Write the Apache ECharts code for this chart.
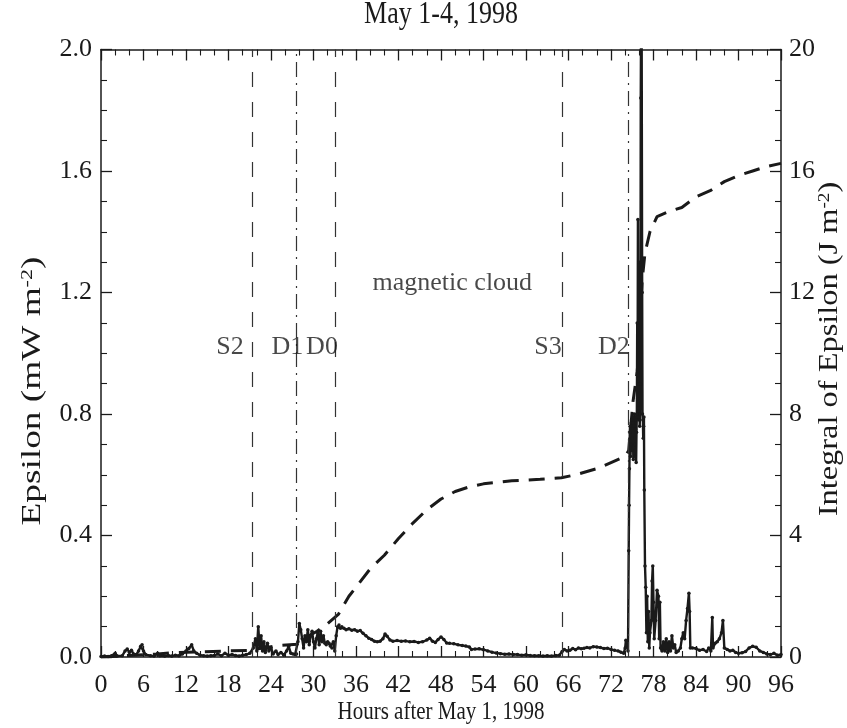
<!DOCTYPE html>
<html>
<head>
<meta charset="utf-8">
<script src="https://cdn.jsdelivr.net/npm/echarts@6/dist/echarts.min.js"></script>
<style>
  html, body { margin: 0; padding: 0; background: #ffffff; }
  #chart { width: 847px; height: 728px; }
</style>
</head>
<body>
<div id="chart"></div>
<script>
// Solar-wind energy input (epsilon), May 1-4, 1998, and its running integral.

// Epsilon samples: hours after May 1, 1998 00 UT, and mW m^-2
const epsilonHours = [
  0, 0.5, 1, 1.5, 2, 2.3, 3, 3.4, 3.7, 4.0, 4.3, 4.6, 5, 5.3, 5.6, 5.8, 6.0, 6.3, 7, 7.5,
  8, 8.3, 9, 9.5, 10, 10.5, 11, 11.5, 12, 12.4, 12.8, 13.1, 13.5, 14, 14.5, 15, 15.5, 16, 16.5, 17,
  17.5, 18, 18.5, 19, 19.5, 20, 20.5, 21, 21.5, 21.8, 22.0, 22.2, 22.4, 22.6, 22.8, 23.0, 23.2, 23.5, 23.7, 24.0,
  24.3, 24.7, 25, 25.4, 25.8, 26.2, 26.5, 26.8, 27.1, 27.4, 27.6, 27.8, 28.0, 28.2, 28.4, 28.6, 28.8, 29.0, 29.2, 29.4,
  29.6, 29.8, 30.0, 30.2, 30.4, 30.6, 30.8, 31.0, 31.2, 31.4, 31.6, 31.8, 32.0, 32.2, 32.4, 32.6, 32.8, 33.0, 33.2, 33.4,
  33.6, 33.8, 34.0, 34.3, 34.6, 35.0, 35.4, 35.8, 36.2, 36.6, 37.0, 37.4, 37.8, 38.2, 38.6, 39.0, 39.4, 39.8, 40.1, 40.4,
  40.8, 41.2, 41.8, 42.4, 43.0, 43.6, 44.2, 44.8, 45.4, 46.0, 46.4, 46.8, 47.2, 47.6, 48.0, 48.4, 48.8, 49.2, 49.8, 50.4,
  51.0, 51.5, 52.0, 52.3, 52.8, 53.4, 54.0, 54.6, 55.2, 55.8, 56.4, 57.0, 57.6, 58.2, 58.8, 59.4, 60.0, 60.6, 61.2, 61.8,
  62.4, 63.0, 63.6, 64.2, 64.7, 65.1, 65.4, 65.8, 66.2, 66.6, 67.0, 67.4, 67.8, 68.2, 68.6, 69.0, 69.5, 70.0, 70.5, 71.0,
  71.5, 72.0, 72.5, 73.0, 73.4, 73.8, 74.0, 74.1, 74.25, 74.4, 74.5, 74.55, 74.6, 74.65, 74.7, 74.75, 74.8, 74.85, 74.9, 74.95,
  75.0, 75.05, 75.1, 75.15, 75.2, 75.25, 75.3, 75.35, 75.4, 75.45, 75.5, 75.55, 75.6, 75.65, 75.7, 75.75, 75.8, 75.85, 75.9, 75.95,
  76.0, 76.05, 76.1, 76.15, 76.2, 76.3, 76.4, 76.45, 76.5, 76.55, 76.6, 76.65, 76.7, 76.8, 76.9, 77.0, 77.1, 77.2, 77.3, 77.4,
  77.5, 77.7, 77.8, 77.9, 78.0, 78.1, 78.3, 78.5, 78.7, 78.8, 78.9, 79.0, 79.2, 79.4, 79.6, 79.8, 80.0, 80.2, 80.4, 80.6,
  80.8, 81.0, 81.2, 81.5, 81.8, 82.0, 82.2, 82.4, 82.6, 82.8, 83.0, 83.1, 83.2, 83.5, 84.0, 84.5, 85.0, 85.5, 85.8, 86.1,
  86.3, 86.4, 86.7, 87.0, 87.3, 87.6, 87.8, 88.0, 88.4, 88.8, 89.2, 89.6, 90.0, 90.5, 91.0, 91.5, 92.0, 92.5, 93.0, 93.5,
  94.0, 94.5, 95.0, 95.5, 96.0
];
const epsilonValues = [
  0.002, 0.003, 0.002, 0.004, 0.012, 0.003, 0.004, 0.02, 0.026, 0.015, 0.022, 0.01, 0.008, 0.02, 0.035, 0.04, 0.02, 0.008, 0.004, 0.003,
  0.012, 0.004, 0.003, 0.005, 0.003, 0.006, 0.004, 0.01, 0.02, 0.028, 0.04, 0.02, 0.012, 0.006, 0.004, 0.003, 0.004, 0.005, 0.01, 0.004,
  0.012, 0.006, 0.008, 0.005, 0.003, 0.006, 0.008, 0.012, 0.03, 0.06, 0.02, 0.1, 0.03, 0.07, 0.02, 0.05, 0.015, 0.045, 0.02, 0.03,
  0.01, 0.02, 0.008, 0.015, 0.006, 0.02, 0.035, 0.012, 0.01, 0.008, 0.01, 0.05, 0.11, 0.09, 0.06, 0.03, 0.07, 0.05, 0.09, 0.04,
  0.07, 0.085, 0.05, 0.03, 0.06, 0.08, 0.04, 0.085, 0.05, 0.07, 0.045, 0.04, 0.05, 0.045, 0.035, 0.03, 0.05, 0.02, 0.07, 0.1,
  0.105, 0.095, 0.1, 0.095, 0.09, 0.093, 0.088, 0.09, 0.085, 0.087, 0.078, 0.07, 0.062, 0.058, 0.052, 0.05, 0.052, 0.06, 0.076, 0.068,
  0.056, 0.052, 0.054, 0.052, 0.053, 0.05, 0.051, 0.048, 0.05, 0.056, 0.062, 0.052, 0.048, 0.058, 0.066, 0.058, 0.046, 0.045, 0.044, 0.04,
  0.038, 0.036, 0.033, 0.025, 0.026, 0.027, 0.024, 0.02, 0.016, 0.013, 0.011, 0.009, 0.01, 0.008, 0.008, 0.006, 0.007, 0.005, 0.004, 0.004,
  0.003, 0.004, 0.003, 0.005, 0.006, 0.018, 0.025, 0.02, 0.022, 0.028, 0.024, 0.03, 0.027, 0.029, 0.031, 0.03, 0.034, 0.033, 0.031, 0.028,
  0.029, 0.025, 0.022, 0.02, 0.016, 0.012, 0.03, 0.055, 0.04, 0.02, 0.35, 0.5, 0.62, 0.74, 0.76, 0.66, 0.7, 0.77, 0.78, 0.68,
  0.72, 0.79, 0.77, 0.65, 0.69, 0.76, 0.8, 0.7, 0.66, 0.75, 0.78, 0.64, 0.74, 0.8, 1.1, 0.85, 1.44, 0.82, 0.9, 0.78,
  1.3, 0.76, 0.8, 0.9, 1.84, 2.4, 1.2, 0.8, 0.78, 0.72, 0.76, 0.79, 0.55, 0.3, 0.23, 0.08, 0.2, 0.05, 0.15, 0.03,
  0.08, 0.12, 0.25, 0.3, 0.18, 0.06, 0.12, 0.22, 0.2, 0.06, 0.18, 0.03, 0.02, 0.05, 0.02, 0.06, 0.015, 0.05, 0.02, 0.07,
  0.03, 0.04, 0.015, 0.02, 0.03, 0.06, 0.08, 0.06, 0.12, 0.16, 0.21, 0.15, 0.03, 0.03, 0.028, 0.022, 0.025, 0.018, 0.03, 0.02,
  0.13, 0.03, 0.045, 0.05, 0.06, 0.08, 0.12, 0.03, 0.025, 0.02, 0.022, 0.015, 0.012, 0.014, 0.018, 0.03, 0.035, 0.032, 0.02, 0.015,
  0.01, 0.008, 0.012, 0.006, 0.008
];

// Running integral of epsilon, J m^-2
const integralHours = [
  0, 4, 8, 10, 14, 18, 21, 23, 25, 27.7, 29, 30.5, 32, 33.5, 35, 36.5, 38, 40, 42, 44,
  46, 48, 50, 52, 54, 56, 58, 60, 62, 65, 67, 70, 72, 74, 74.5, 75.1, 75.7, 76.0, 76.2, 76.4,
  76.8, 77.5, 78.5, 80, 82, 84, 86, 88, 90, 92, 94, 96
];
const integralValues = [
  0, 0.05, 0.1, 0.14, 0.17, 0.2, 0.22, 0.3, 0.38, 0.42, 0.65, 0.85, 1.1, 1.4, 2.0, 2.45, 2.9, 3.35, 3.9, 4.4,
  4.85, 5.2, 5.45, 5.6, 5.7, 5.75, 5.8, 5.82, 5.85, 5.9, 6.0, 6.2, 6.4, 6.6, 6.8, 8.4, 9.4, 10.3, 11.5, 12.4,
  13.3, 14.0, 14.5, 14.65, 14.8, 15.15, 15.35, 15.65, 15.85, 16.0, 16.15, 16.25
];

// Shock / discontinuity times (hours) and their line styles
const eventNames = ['S2', 'D1', 'D0', 'S3', 'D2'];
const eventHours = [21.35, 27.5, 33.0, 65.05, 74.45];
const eventKinds = ['dash', 'dashdot', 'dash', 'dash', 'dashdot'];
// Where each event tag is written (hour, epsilon)
const eventLabelHours = [18.2, 26.3, 31.2, 63.1, 72.4];
const eventLabelLevel = 1.02;
const cloudLabel = 'magnetic cloud';
const cloudLabelAt = [49.6, 1.23];

// Axis tick settings
const hourTicks = { min: 0, max: 96, step: 6 };
const epsilonTicks = { min: 0, max: 2, step: 0.4 };
const integralTicks = { min: 0, max: 20, step: 4 };

const FONT = '"Liberation Serif", "DejaVu Serif", serif';
const INK = '#1a1a1a';

const zip = (xs, ys) => xs.map((x, i) => [x, ys[i]]);
const dashStyles = { dash: [15, 15], dashdot: [15, 6, 2, 6] };

const chart = echarts.init(document.getElementById('chart'));

// Every axis stays on its own edge of the box; ticks point into the plot
function boxAxis(extra, minorSplits) {
  return Object.assign({
    type: 'value',
    axisLine: { show: true, onZero: false, lineStyle: { color: INK, width: 1.5 } },
    axisTick: { show: true, inside: true, length: 11, lineStyle: { color: INK, width: 1.3 } },
    minorTick: { show: true, splitNumber: minorSplits, length: 6, lineStyle: { color: INK, width: 1.1 } },
    splitLine: { show: false },
    minorSplitLine: { show: false }
  }, extra);
}

const tickFont = { fontFamily: FONT, fontSize: 26, color: INK };
const nameRich = {
  n: { fontFamily: FONT, fontSize: 27, fill: INK, color: INK },
  s: { fontFamily: FONT, fontSize: 16, fill: INK, color: INK, verticalAlign: 'top' }
};
const centered = { textAlign: 'center', textVerticalAlign: 'middle', align: 'center', verticalAlign: 'middle' };

chart.setOption({
  animation: false,
  backgroundColor: '#ffffff',
  grid: { left: 101, right: 66, top: 49.5, bottom: 71, containLabel: false },
  xAxis: [
    boxAxis({
      position: 'bottom',
      min: hourTicks.min, max: hourTicks.max, interval: hourTicks.step,
      axisLabel: Object.assign({ margin: 15 }, tickFont)
    }, 3),
    boxAxis({
      position: 'top',
      min: hourTicks.min, max: hourTicks.max, interval: hourTicks.step,
      axisLabel: { show: false }
    }, 3)
  ],
  yAxis: [
    boxAxis({
      position: 'left',
      min: epsilonTicks.min, max: epsilonTicks.max, interval: epsilonTicks.step,
      axisLabel: Object.assign({ margin: 9, formatter: v => v.toFixed(1) }, tickFont)
    }, 4),
    boxAxis({
      position: 'right',
      min: integralTicks.min, max: integralTicks.max, interval: integralTicks.step,
      axisLabel: Object.assign({ margin: 8 }, tickFont)
    }, 4)
  ],
  // Title and axis titles, drawn in the same tall lettering as the plot annotations
  graphic: [
    {
      type: 'text', x: 441, y: 15, scaleX: 1, scaleY: 1.2,
      style: Object.assign({
        text: 'May 1-4, 1998', fill: INK, font: '26px ' + FONT
      }, centered)
    },
    {
      type: 'text', x: 441, y: 712, scaleX: 1, scaleY: 1.2,
      style: Object.assign({
        text: 'Hours after May 1, 1998', fill: INK, font: '21px ' + FONT
      }, centered)
    },
    {
      type: 'text', x: 33, y: 391, rotation: Math.PI / 2, scaleX: 1.38, scaleY: 1,
      style: Object.assign({
        text: '{n|Epsilon (mW m}{s|-2}{n|)}', rich: nameRich, fill: INK
      }, centered)
    },
    {
      type: 'text', x: 830, y: 349, rotation: Math.PI / 2, scaleX: 1.2, scaleY: 1,
      style: Object.assign({
        text: '{n|Integral of Epsilon (J m}{s|-2}{n|)}', rich: nameRich, fill: INK
      }, centered)
    }
  ],
  series: [
    {
      name: 'Integral of Epsilon',
      type: 'line', xAxisIndex: 0, yAxisIndex: 1,
      data: zip(integralHours, integralValues),
      showSymbol: false, smooth: false,
      lineStyle: { color: INK, width: 3, type: [16, 10] },
      z: 3
    },
    {
      name: 'Epsilon',
      type: 'line', xAxisIndex: 0, yAxisIndex: 0,
      data: zip(epsilonHours, epsilonValues),
      symbol: 'circle', symbolSize: 3.5, showSymbol: true,
      itemStyle: { color: INK },
      lineStyle: { color: INK, width: 2.4 },
      clip: true,
      markLine: {
        silent: true, symbol: ['none', 'none'],
        label: { show: false },
        data: eventHours.map((h, i) => ({
          xAxis: h,
          lineStyle: { color: '#333333', width: 1.2, type: dashStyles[eventKinds[i]] }
        }))
      },
      z: 4
    },
    {
      name: 'labels',
      type: 'scatter', xAxisIndex: 0, yAxisIndex: 0,
      symbolSize: 0, silent: true,
      data: eventNames.map((n, i) => ({ name: n, value: [eventLabelHours[i], eventLabelLevel] }))
        .concat([{ name: cloudLabel, value: cloudLabelAt }]),
      label: {
        show: true, position: 'inside', formatter: '{b}',
        fontFamily: FONT, fontSize: 26, color: INK
      },
      z: 5
    }
  ]
});
</script>
</body>
</html>
